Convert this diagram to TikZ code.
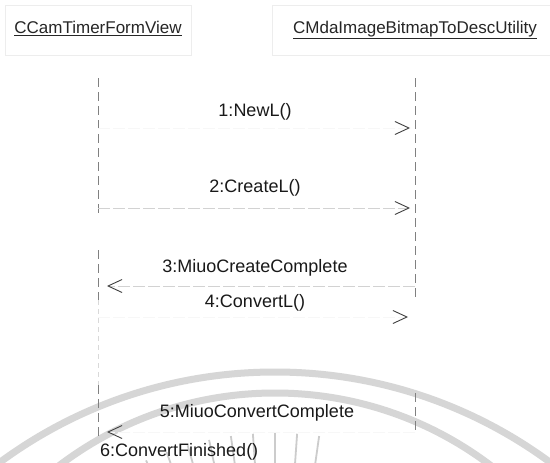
\documentclass[tikz,border=0pt]{standalone}
\usepackage{fontspec}
\setmainfont{Liberation Sans}
\usetikzlibrary{arrows.meta}
\begin{document}
\begin{tikzpicture}[x=1pt,y=-1pt,
  objbox/.style={draw=gray!14, line width=0.6pt, minimum height=50pt, inner sep=0pt,
    font=\fontsize{17}{19}\selectfont, text=black!85},
  lifeline/.style={draw=black!50, line width=0.8pt, dash pattern=on 9pt off 5pt},
  faintlife/.style={draw=black!15, line width=0.6pt, dash pattern=on 5pt off 4pt},
  msg/.style={draw=gray!35, line width=0.6pt, dash pattern=on 12pt off 3pt,
    -{Straight Barb[length=14pt,width=13pt,line width=0.9pt,color=black!75]}},
  faintmsg/.style={msg, draw=gray!6},
  msglabel/.style={font=\fontsize{18}{20}\selectfont, text=black!90, inner sep=0pt},
  wm/.style={draw=gray!32, line width=7pt},
  ray/.style={draw=gray!40, line width=1.8pt}]
\useasboundingbox (0,0) rectangle (550,463);
\fill[white] (0,0) rectangle (550,463);
% watermark
\begin{scope}
  \clip (0,0) rectangle (550,463);
  \draw[wm] (275,836) circle[radius=464pt];
  \draw[wm] (275,750) circle[radius=357pt];
  \foreach \a in {-8,-4,...,28} {
    \draw[ray, shift={(275,750)}] (90+\a:250pt) -- (90+\a:317pt);
  }
\end{scope}
% objects
\node[objbox, minimum width=186pt] (objA) at (98,30)
  {\raisebox{6pt}{\underline{CCamTimerFormView}}};
\node[objbox, minimum width=286pt] (objB) at (415,30)
  {\raisebox{6pt}{\underline{CMdaImageBitmapToDescUtility}}};
% lifeline points
\coordinate (a1) at (98,78);  \coordinate (a2) at (98,215);
\coordinate (a3) at (98,250); \coordinate (a4) at (98,300);
\coordinate (a5) at (98,385); \coordinate (a6) at (98,436);
\coordinate (b1) at (415,78); \coordinate (b2) at (415,300);
\coordinate (b3) at (415,393); \coordinate (b4) at (415,433);
\draw[lifeline] (a1) -- (a2);
\draw[lifeline] (a3) -- (a4);
\draw[faintlife] (a4) -- (a5);
\draw[lifeline] (a5) -- (a6);
\draw[lifeline] (b1) -- (b2);
\draw[lifeline] (b3) -- (b4);
% message anchor points
\coordinate (m1a) at (98,128);  \coordinate (m1b) at (415,128);
\coordinate (m2a) at (98,208);  \coordinate (m2b) at (415,208);
\coordinate (m3a) at (98,286);  \coordinate (m3b) at (415,286);
\coordinate (m4a) at (98,317);  \coordinate (m4b) at (415,317);
\coordinate (m5a) at (98,432);  \coordinate (m5b) at (415,432);
% messages
\draw[faintmsg, shorten >=5pt] (m1a) -- (m1b);
\draw[msg, shorten >=5pt] (m2a) -- (m2b);
\draw[msg, shorten >=9pt] (m3b) -- (m3a);
\draw[faintmsg, shorten >=7pt] (m4a) -- (m4b);
\draw[faintmsg, shorten >=9pt] (m5b) -- (m5a);
% labels
\node[msglabel] (l1) at (255,112) {1:NewL()};
\node[msglabel] (l2) at (255,188) {2:CreateL()};
\node[msglabel] (l3) at (255,268) {3:MiuoCreateComplete};
\node[msglabel] (l4) at (255,303) {4:ConvertL()};
\node[msglabel] (l5) at (257,413) {5:MiuoConvertComplete};
\node[msglabel, anchor=west] (l6) at (100,452) {6:ConvertFinished()};
\end{tikzpicture}
\end{document}
